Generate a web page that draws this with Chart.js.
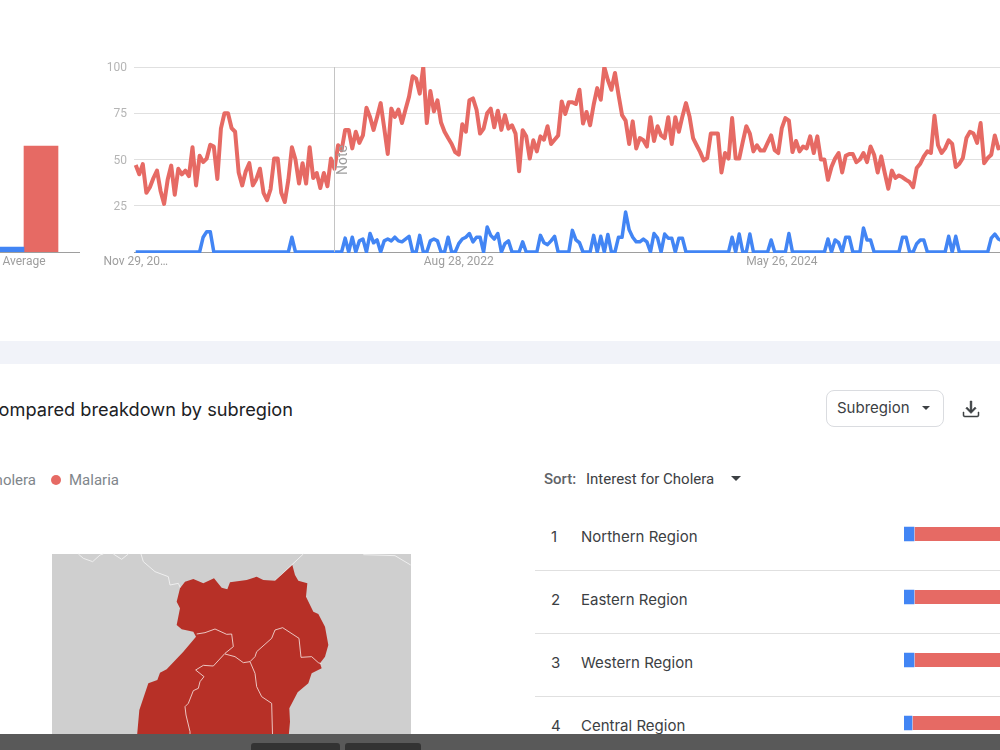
<!DOCTYPE html>
<html lang="en">
<head>
<meta charset="utf-8">
<title>Cholera and Malaria search interest</title>
<script src="https://cdn.jsdelivr.net/npm/chart.js@4"></script>
<style>
  html, body { margin: 0; padding: 0; background: #fff; }
  body { position: relative; width: 1000px; height: 750px; overflow: hidden; font-family: Roboto, sans-serif; }
  canvas { position: absolute; }
  .t { position: absolute; white-space: nowrap; line-height: 20px; }
  .band { position: absolute; left: 0; top: 341px; width: 1000px; height: 23px; background: #f1f3f9; }
  .rule { position: absolute; left: 535px; width: 465px; height: 1px; background: #e0e0e0; }
  .foot { position: absolute; left: 0; top: 734px; width: 1000px; height: 16px; background: #595959; z-index: 5; }
  .foot b { position: absolute; top: 9px; height: 12px; background: #333; border-radius: 3px; }
  .title { font-family: Inter, sans-serif; font-size: 18.2px; color: #202124; right: 707px; top: 399px; }
  .legend { font-size: 15px; color: #80868b; top: 470px; }
  .dot { position: absolute; width: 10px; height: 10px; border-radius: 50%; top: 475px; }
  .select { position: absolute; left: 826px; top: 390px; width: 116px; height: 35px; border: 1px solid #dadce0; border-radius: 8px; }
  .row { font-family: Inter, sans-serif; font-size: 15px; color: #3c4043; }
</style>
</head>
<body>
<div class="band"></div>

<div class="t title">Compared breakdown by subregion</div>
<div class="t legend" style="right:964px">Cholera</div>
<div class="dot" style="left:51px;background:#e66a64"></div>
<div class="t legend" style="left:69px">Malaria</div>

<div class="select"></div>
<div class="t row" style="left:837px;top:398px;color:#3c4043">Subregion</div>
<svg style="position:absolute;left:920px;top:404px" width="12" height="8"><path d="M2 2h8l-4 4z" fill="#3c4043"/></svg>
<svg style="position:absolute;left:959px;top:397px" width="24" height="24" viewBox="0 0 24 24"><path d="M19 15v3a1 1 0 0 1-1 1H6a1 1 0 0 1-1-1v-3H4v3.2A1.8 1.8 0 0 0 5.8 20h12.4a1.8 1.8 0 0 0 1.8-1.8V15zM12.9 4h-1.8v9.2L8 10.1 6.8 11.3 12 16.5l5.2-5.2-1.2-1.2-3.1 3.1z" fill="#3c4043" stroke="#3c4043" stroke-width=".5"/></svg>

<div class="t" style="left:544px;top:469px;font-size:15px;font-weight:500;color:#5f6368">Sort:</div>
<div class="t" style="left:586px;top:469px;font-size:15px;color:#3c4043">Interest for Cholera</div>
<svg style="position:absolute;left:730px;top:475px" width="12" height="8"><path d="M1 1h10l-5 5z" fill="#3c4043"/></svg>

<div class="t row" style="left:551px;top:527px">1</div><div class="t row" style="left:581px;top:527px">Northern Region</div>
<div class="t row" style="left:551px;top:590px">2</div><div class="t row" style="left:581px;top:590px">Eastern Region</div>
<div class="t row" style="left:551px;top:653px">3</div><div class="t row" style="left:581px;top:653px">Western Region</div>
<div class="t row" style="left:551px;top:716px">4</div><div class="t row" style="left:581px;top:716px">Central Region</div>
<div class="rule" style="top:570px"></div>
<div class="rule" style="top:633px"></div>
<div class="rule" style="top:696px"></div>

<!-- Subregion map of Uganda -->
<svg style="position:absolute;left:0;top:540px" width="430" height="210" viewBox="0 0 1290 630">
  <rect x="156" y="42" width="1077" height="560" fill="#cfcfcf"/>
  <g fill="none" stroke="#efefef" stroke-width="3">
    <path d="M235 42L250 55L278 65L300 45L310 42M340 42L365 58L385 42M423 42L430 65L465 95L505 110L510 135L535 130L542 145M825 122L910 42M1090 44L1185 47L1232 75"/>
  </g>
  <path fill="#b73027" d="M540 145L555 125L580 117L610 130L642 115L665 143L682 148L690 127L740 120L770 110L790 120L825 122L877 75L885 105L895 122L922 130L918 170L940 215L955 222L975 260L985 315L975 350L960 370L965 385L935 400L925 430L893 457L868 505L870 545L865 600L410 600L418 510L445 430L472 420L480 398L500 388L550 335L588 290L580 275L545 268L530 255L540 205L530 185Z"/>
  <g fill="none" stroke="#f3dcd9" stroke-width="2.6">
    <path d="M590 282L615 278L645 267L680 283L695 282L700 320L675 340L640 378L610 376L587 390L612 410L600 425L595 445L580 452L565 490L555 500L558 525L570 575L570 600"/>
    <path d="M675 342L705 350L730 368L750 365L765 400L770 440L785 470L815 490L818 600"/>
    <path d="M750 365L765 350L770 335L815 295L825 270L848 263L897 295L903 352L935 350L955 368L965 372"/>
  </g>
</svg>

<canvas id="average" width="112" height="300" style="left:-32px;top:0"></canvas>
<canvas id="trend" width="1000" height="300" style="left:0;top:0"></canvas>
<canvas id="regions" width="96" height="253" style="left:904px;top:502px"></canvas>

<div class="foot"><b style="left:251px;width:89px"></b><b style="left:345px;width:76px"></b></div>

<script>
// Weekly search interest, index 0 is the week of Nov 29, 2020
const malaria = [
  47,42,47.5,32,35,40,44,33,26,39,
  46.7,31,45,42,44,41,56.6,36,52,48.6,
  50.5,58,57,39.5,66.7,75,75,67,65,43,
  36,43.6,48,36,39.5,45,32,28,34,50.5,
  50.5,32,27,39,56.6,50,37,48,37,56.6,
  40,42.7,34.6,42.7,35.5,50.5,45,57.7,55,66,
  66,56,65,59,63,78,73,66,73,80.5,
  67,53,77.5,73,77,69.7,77,84,95,93.7,
  85.6,100,69.7,87,76,82,70,65,61.6,58.4,
  54,52.6,69,65,82,83,77,64,66.7,75,
  77.5,67.4,76.4,66,74,66.7,68.5,64,43.6,65.8,
  62.5,50.5,60.4,54.4,62.5,60.7,68,58.4,60.7,63,
  81.4,74.6,81,81,80,87.7,69.4,75.7,68.5,79.6,
  88.6,82.3,100,93,87.7,96.8,85,74,71,58.4,
  70.6,56,61.6,60.4,57,72.8,60,68,63,61.6,
  72.8,58.4,72.8,65,73.3,80.5,73.3,61.6,57.7,54,
  49.5,50.8,64,64,64,43,53.5,50.5,72.4,50.5,
  50.5,59.5,68,64,54.4,57.7,54.8,54.8,59,63,
  55,53.5,67,72.4,71,54,60,54.4,57,56,
  62.5,53.5,62.5,50,50,39,46,50.5,53.5,43,
  52,53,53,48.6,50,53.5,48.6,57,52.6,43,
  51.7,42.7,34.2,44,40,41.4,40.4,39,37.8,35,
  45.4,47.7,51.7,54.4,53.5,73.7,57.7,53.5,56,60.4,
  58.4,46,47.7,50.8,61.6,65,64,59,69.7,48,
  50.8,52.6,63,56,57
];
const cholera = [
  0,0,0,0,0,0,0,0,0,0,
  0,0,0,0,0,0,0,0,0,8,
  11,11,0,0,0,0,0,0,0,0,
  0,0,0,0,0,0,0,0,0,0,
  0,0,0,0,8,0,0,0,0,0,
  0,0,0,0,0,0,0,0,0,7.5,
  0,8,0,6,7,0,10,5,6.5,0,
  6,7,6,8,6,5.5,7,8.5,0,0,
  9,0,0,6,7,6,0,0,8,0,
  0,4.5,7,8,10,5.5,8,8,0,13.5,
  9,7,10,0,4.5,6,0,0,0,5.5,
  0,0,0,0,9,5,4,6,8.5,0,
  0,0,0,11.7,6.5,5,0,0,0,9,
  0,8.5,0,9.5,0,0,8,8,21.6,12,
  8,5.5,5.5,7,5.5,0,10,7.5,0,9.7,
  7.5,7.5,0,7.5,7.5,0,0,0,0,0,
  0,0,0,0,0,0,0,0,8,0,
  9.7,0,0,9.7,0,0,0,0,0,6.5,
  0,0,0,0,10,0,0,0,0,0,
  0,0,0,0,0,7,0,6.5,5,0,
  8,8,0,0,0,13,6.5,6.5,0,0,
  0,0,0,0,0,0,8,8,0,0,
  4.5,6.5,6.5,0,0,0,0,0,0,8.5,
  0,8.5,0,0,0,0,0,0,0,0,
  0,7.5,9.7,7,6
];
const dateTickWeeks = [0, 91, 182];
const dateTickNames = ['Nov 29, 20…', 'Aug 28, 2022', 'May 26, 2024'];
const interestTicks = [0, 25, 50, 75, 100];
const noteWeek = 56;

// Period average per term
const averageLabels = ['Average'];
const averageCholera = [2.7];
const averageMalaria = [57.3];

// Share of interest per subregion
const regionNames = ['Northern Region', 'Eastern Region', 'Western Region', 'Central Region'];
const regionCholera = [3, 3, 3, 2.4];
const regionMalaria = [97, 97, 97, 97.6];

const BLUE = '#4285f4';
const RED = '#e66a64';

Chart.defaults.animation = false;
Chart.defaults.responsive = false;
Chart.defaults.font.family = 'Roboto, sans-serif';

// Vertical marker with a rotated caption for the measurement change
const noteMarker = {
  id: 'noteMarker',
  afterDatasetsDraw(chart) {
    const { ctx, chartArea, scales } = chart;
    const x = Math.floor(scales.x.getPixelForValue(noteWeek)) + 0.5;
    ctx.save();
    ctx.strokeStyle = '#c4c4c4';
    ctx.lineWidth = 1;
    ctx.beginPath();
    ctx.moveTo(x, chartArea.top);
    ctx.lineTo(x, chartArea.bottom);
    ctx.stroke();
    ctx.translate(x + 9, 160);
    ctx.rotate(-Math.PI / 2);
    ctx.fillStyle = '#9e9e9e';
    ctx.font = '14px Roboto, sans-serif';
    ctx.textAlign = 'center';
    ctx.textBaseline = 'middle';
    ctx.fillText('Note', 0, 0);
    ctx.restore();
  }
};

const seriesLine = {
  pointRadius: 0, tension: 0, borderJoinStyle: 'round',
  clip: { left: 2, right: 2, top: 0, bottom: 1 }
};

new Chart(document.getElementById('trend'), {
  type: 'line',
  data: {
    datasets: [
      { ...seriesLine, label: 'Malaria', data: malaria.map((y, x) => ({ x, y })), borderColor: RED, borderWidth: 4 },
      { ...seriesLine, label: 'Cholera', data: cholera.map((y, x) => ({ x, y })), borderColor: BLUE, borderWidth: 3.5 }
    ]
  },
  options: {
    layout: { padding: { top: 67, right: 0, bottom: 0, left: 0 } },
    plugins: { legend: { display: false }, tooltip: { enabled: false } },
    scales: {
      x: {
        type: 'linear',
        min: -0.48,
        max: 243.46,
        afterFit(s) { s.height = 48; },
        afterBuildTicks(s) { s.ticks = dateTickWeeks.map(value => ({ value })); },
        grid: { display: false, drawTicks: false },
        border: { display: false },
        ticks: {
          autoSkip: false, maxRotation: 0, padding: 3,
          color: '#9e9e9e', font: { size: 12 },
          callback: v => dateTickNames[dateTickWeeks.indexOf(v)]
        }
      },
      y: {
        min: 0,
        max: 100,
        afterFit(s) { s.width = 134; },
        afterBuildTicks(s) { s.ticks = interestTicks.map(value => ({ value })); },
        grid: {
          drawTicks: false,
          color: c => (c.tick.value === 0 ? '#9e9e9e' : '#e0e0e0')
        },
        border: { display: false },
        ticks: {
          padding: 7, color: '#b5b5b5', font: { size: 12 }, labelOffset: 1,
          callback: v => (v === 0 ? '' : String(v))
        }
      }
    }
  },
  plugins: [noteMarker]
});

new Chart(document.getElementById('average'), {
  type: 'bar',
  data: {
    labels: averageLabels,
    datasets: [
      { label: 'Cholera', data: averageCholera, backgroundColor: BLUE, barThickness: 34, barPercentage: 1 },
      { label: 'Malaria', data: averageMalaria, backgroundColor: RED, barThickness: 34, barPercentage: 1 }
    ]
  },
  options: {
    layout: { padding: { top: 67 } },
    plugins: { legend: { display: false }, tooltip: { enabled: false } },
    scales: {
      x: {
        afterFit(s) { s.height = 48; },
        grid: { display: false, drawTicks: false },
        border: { color: '#9e9e9e' },
        ticks: { padding: 3, color: '#9e9e9e', font: { size: 12 } }
      },
      y: { display: false, min: 0, max: 100 }
    }
  }
});

new Chart(document.getElementById('regions'), {
  type: 'bar',
  data: {
    labels: regionNames,
    datasets: [
      { label: 'Cholera', data: regionCholera, backgroundColor: BLUE, barThickness: 14, stack: 's', borderWidth: 0 },
      { label: 'Malaria', data: regionMalaria, backgroundColor: RED, barThickness: 14, stack: 's', borderColor: '#fff', borderSkipped: false, borderWidth: { left: 1, right: 0, top: 0, bottom: 0 } }
    ]
  },
  options: {
    indexAxis: 'y',
    layout: { padding: { top: 0.5, bottom: 0.5, left: 0, right: 0 } },
    plugins: { legend: { display: false }, tooltip: { enabled: false } },
    scales: {
      x: { display: false, stacked: true, min: 0, max: 28.8 },
      y: { display: false, stacked: true }
    }
  }
});
</script>
</body>
</html>
